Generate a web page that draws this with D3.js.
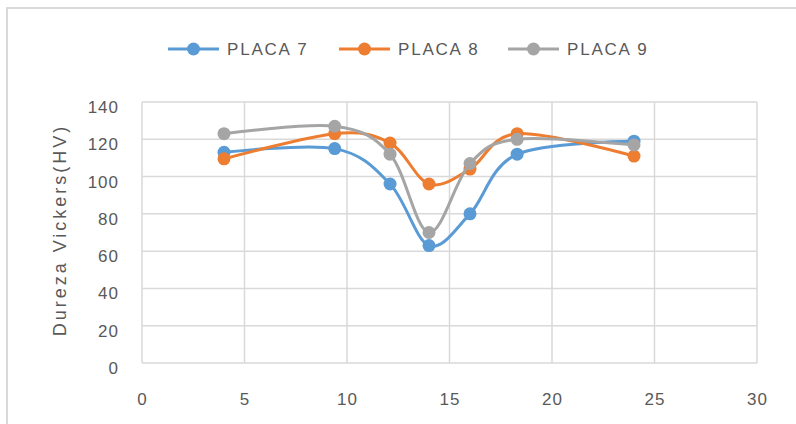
<!DOCTYPE html>
<html>
<head>
<meta charset="utf-8">
<script src="https://cdn.jsdelivr.net/npm/d3@7"></script>
<style>
  html, body { margin: 0; padding: 0; background: #fff; }
  svg { display: block; }
</style>
</head>
<body>
<script>
const xValues = [4, 9.4, 12.1, 14, 16, 18.3, 24];
const placa7 = [113, 115, 96, 63, 80, 112, 119];
const placa8 = [109.5, 123, 118, 96, 104, 123, 111];
const placa9 = [123, 127, 112, 70, 107, 120, 117];
const seriesNames = ["PLACA 7", "PLACA 8", "PLACA 9"];
const seriesColors = ["#5B9BD5", "#ED7D31", "#A5A5A5"];
const xTicks = [0, 5, 10, 15, 20, 25, 30];
const yTicks = [0, 20, 40, 60, 80, 100, 120, 140];
const yTitle = "Dureza Vickers(HV)";

const W = 796, H = 424;
const svg = d3.select("body").append("svg").attr("width", W).attr("height", H);

// chart outer border
svg.append("rect").attr("x", 7).attr("y", 8).attr("width", W).attr("height", H)
  .attr("fill", "none").attr("stroke", "#d9d9d9").attr("stroke-width", 2);

const x = d3.scaleLinear().domain([0, 30]).range([142, 757]);
const y = d3.scaleLinear().domain([0, 140]).range([363, 102]);

const textColor = "#595959";
const font = "'Liberation Sans', Arial, sans-serif";

// gridlines
svg.append("g").selectAll("line.h").data(yTicks).join("line")
  .attr("x1", x(0)).attr("x2", x(30))
  .attr("y1", d => y(d)).attr("y2", d => y(d))
  .attr("stroke", "#d9d9d9").attr("stroke-width", 1.5);
svg.append("g").selectAll("line.v").data(xTicks).join("line")
  .attr("y1", y(0)).attr("y2", y(140))
  .attr("x1", d => x(d)).attr("x2", d => x(d))
  .attr("stroke", "#d9d9d9").attr("stroke-width", 1.5);

// axes via d3 axis generators (labels only)
const xAxis = svg.append("g").attr("transform", `translate(0,${y(0)})`)
  .call(d3.axisBottom(x).tickValues(xTicks).tickSize(0).tickPadding(30));
xAxis.select(".domain").remove();
xAxis.selectAll("text").attr("fill", textColor).attr("font-size", 17)
  .attr("font-family", font).style("letter-spacing", "1px");

const yAxis = svg.append("g").attr("transform", `translate(${x(0)},0)`)
  .call(d3.axisLeft(y).tickValues(yTicks).tickSize(0).tickPadding(23));
yAxis.select(".domain").remove();
yAxis.selectAll("text").attr("fill", textColor).attr("font-size", 17)
  .attr("font-family", font).attr("dy", "0.62em").style("letter-spacing", "1px");

// y title
svg.append("text")
  .attr("transform", `translate(66,230) rotate(-90)`)
  .attr("text-anchor", "middle")
  .attr("fill", textColor).attr("font-size", 18).attr("font-family", font)
  .style("letter-spacing", "3px")
  .text(yTitle);

// series
const allSeries = [placa7, placa8, placa9];
const line = d3.line().x(d => x(d[0])).y(d => y(d[1])).curve(d3.curveCardinal.tension(0));
allSeries.forEach((vals, i) => {
  const pts = xValues.map((xv, j) => [xv, vals[j]]);
  const g = svg.append("g");
  g.append("path").attr("d", line(pts)).attr("fill", "none")
    .attr("stroke", seriesColors[i]).attr("stroke-width", 3);
  g.selectAll("circle").data(pts).join("circle")
    .attr("cx", d => x(d[0])).attr("cy", d => y(d[1])).attr("r", 6.5)
    .attr("fill", seriesColors[i]);
});

// legend
const legendX = [168, 339, 508];
seriesNames.forEach((name, i) => {
  const g = svg.append("g").attr("transform", `translate(${legendX[i]},49)`);
  g.append("line").attr("x1", 0).attr("x2", 51).attr("y1", 0).attr("y2", 0)
    .attr("stroke", seriesColors[i]).attr("stroke-width", 3);
  g.append("circle").attr("cx", 25.5).attr("cy", 0).attr("r", 6.5).attr("fill", seriesColors[i]);
  g.append("text").attr("x", 59).attr("y", 0).attr("dy", "0.36em")
    .attr("fill", textColor).attr("font-size", 17).attr("font-family", font)
    .style("letter-spacing", "1.8px")
    .text(name);
});
</script>
</body>
</html>
